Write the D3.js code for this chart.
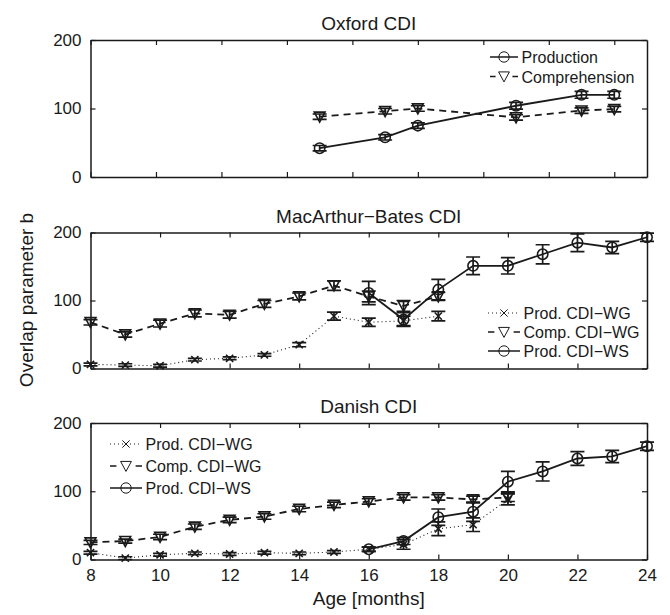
<!DOCTYPE html>
<html>
<head>
<meta charset="utf-8">
<script src="https://cdn.jsdelivr.net/npm/d3@7"></script>
<style>
  body { margin: 0; background: #fff; }
  text { font-family: "Liberation Sans", Arial, sans-serif; fill: #1a1a1a; }
</style>
</head>
<body>
<svg id="chart" width="670" height="615"></svg>
<script>
// --- data ---
// Oxford CDI
var oxAges = [15, 17, 18, 21, 23, 24];
var oxProd = [42, 58, 75, 104, 120, 120];
var oxProdErr = [4, 4, 4, 5, 5, 5];
var oxComp = [88, 96, 100, 87, 97, 99];
var oxCompErr = [4, 4, 4, 4, 4, 4];

// MacArthur-Bates CDI
var mbWgAges = [8, 9, 10, 11, 12, 13, 14, 15, 16, 17, 18];
var mbProdWg = [6, 5, 4, 13, 15, 20, 35, 77, 68, 70, 77];
var mbProdWgErr = [2, 2, 2, 2, 2, 2, 3, 6, 6, 7, 7];
var mbCompWg = [68, 50, 66, 81, 79, 95, 106, 122, 106, 92, 106];
var mbCompWgErr = [4, 4, 5, 5, 5, 5, 5, 7, 8, 8, 6];
var mbWsAges = [16, 17, 18, 19, 20, 21, 22, 23, 24];
var mbProdWs = [111, 72, 116, 151, 151, 168, 185, 178, 193];
var mbProdWsErr = [17, 10, 15, 13, 12, 14, 13, 9, 6];

// Danish CDI
var dkWgAges = [8, 9, 10, 11, 12, 13, 14, 15, 16, 17, 18, 19, 20];
var dkProdWg = [10, 2, 7, 9, 8, 10, 9, 11, 15, 22, 45, 51, 88];
var dkProdWgErr = [2, 2, 2, 2, 2, 2, 2, 2, 3, 7, 10, 10, 8];
var dkCompWg = [25, 27, 33, 48, 58, 63, 74, 80, 85, 91, 91, 88, 91];
var dkCompWgErr = [3, 3, 4, 4, 4, 4, 4, 4, 4, 4, 4, 5, 6];
var dkWsAges = [16, 17, 18, 19, 20, 21, 22, 23, 24];
var dkProdWs = [15, 27, 62, 70, 114, 129, 148, 151, 166];
var dkProdWsErr = [3, 5, 12, 14, 15, 14, 10, 9, 6];

var xTicks = [8, 10, 12, 14, 16, 18, 20, 22, 24];
var yTicks = [0, 100, 200];

var svg = d3.select("#chart");
var left = 90.5, right = 647;
var ink = "#1a1a1a";

// three stacked panels
var panels = [
  { title: "Oxford CDI", top: 40, bottom: 177, xMax: 25, xLabels: false,
    legend: { x: 490, y: 57, dy: 19.5, len: 28 },
    series: [
      { name: "Production", ages: oxAges, vals: oxProd, err: oxProdErr, dash: null, marker: "circle" },
      { name: "Comprehension", ages: oxAges, vals: oxComp, err: oxCompErr, dash: "7,5", marker: "tri" }
    ] },
  { title: "MacArthur\u2212Bates CDI", top: 232.5, bottom: 368.5, xMax: 24, xLabels: false,
    legend: { x: 488, y: 313, dy: 19, len: 32 },
    series: [
      { name: "Prod. CDI\u2212WG", ages: mbWgAges, vals: mbProdWg, err: mbProdWgErr, dash: "1,3", marker: "x" },
      { name: "Comp. CDI\u2212WG", ages: mbWgAges, vals: mbCompWg, err: mbCompWgErr, dash: "7,5", marker: "tri" },
      { name: "Prod. CDI\u2212WS", ages: mbWsAges, vals: mbProdWs, err: mbProdWsErr, dash: null, marker: "circle" }
    ] },
  { title: "Danish CDI", top: 423, bottom: 559.5, xMax: 24, xLabels: true,
    legend: { x: 110, y: 444, dy: 22, len: 32 },
    series: [
      { name: "Prod. CDI\u2212WG", ages: dkWgAges, vals: dkProdWg, err: dkProdWgErr, dash: "1,3", marker: "x" },
      { name: "Comp. CDI\u2212WG", ages: dkWgAges, vals: dkCompWg, err: dkCompWgErr, dash: "7,5", marker: "tri" },
      { name: "Prod. CDI\u2212WS", ages: dkWsAges, vals: dkProdWs, err: dkProdWsErr, dash: null, marker: "circle" }
    ] }
];

function drawMarker(g, type, cx, cy) {
  if (type == "circle") {
    g.append("circle").attr("cx", cx).attr("cy", cy).attr("r", 5.2)
      .attr("fill", "none").attr("stroke", ink).attr("stroke-width", 1.6);
  } else if (type == "tri") {
    var s = 5.4;
    g.append("path")
      .attr("d", "M" + (cx - s) + "," + (cy - s * 0.85) + "L" + (cx + s) + "," + (cy - s * 0.85) + "L" + cx + "," + (cy + s) + "Z")
      .attr("fill", "none").attr("stroke", ink).attr("stroke-width", 1.6);
  } else {
    var h = 3.6;
    g.append("path")
      .attr("d", "M" + (cx - h) + "," + (cy - h) + "L" + (cx + h) + "," + (cy + h) + "M" + (cx - h) + "," + (cy + h) + "L" + (cx + h) + "," + (cy - h))
      .attr("stroke", ink).attr("stroke-width", 1.6);
  }
}

panels.forEach(function (p) {
  var x = d3.scaleLinear().domain([8, p.xMax]).range([left, right]);
  var y = d3.scaleLinear().domain([0, 200]).range([p.bottom, p.top]);
  var g = svg.append("g");

  // axes, ticks pointing inward, box on all sides
  var xb = g.append("g").attr("transform", "translate(0," + p.bottom + ")")
    .call(d3.axisBottom(x).tickValues(xTicks).tickSizeInner(-5).tickSizeOuter(0)
      .tickFormat(p.xLabels ? d3.format("d") : ""));
  xb.selectAll(".tick text").attr("y", 21).attr("dy", 0);
  g.append("g").attr("transform", "translate(0," + p.top + ")")
    .call(d3.axisTop(x).tickValues(xTicks).tickSizeInner(-5).tickSizeOuter(0).tickFormat(""));
  var yl = g.append("g").attr("transform", "translate(" + left + ",0)")
    .call(d3.axisLeft(y).tickValues(yTicks).tickSizeInner(-5).tickSizeOuter(0));
  yl.selectAll(".tick text").attr("x", -9);
  g.append("g").attr("transform", "translate(" + right + ",0)")
    .call(d3.axisRight(y).tickValues(yTicks).tickSizeInner(-5).tickSizeOuter(0).tickFormat(""));
  g.selectAll(".domain").attr("stroke", ink).attr("stroke-width", 1.5);
  g.selectAll(".tick line").attr("stroke", ink).attr("stroke-width", 1.2);
  g.selectAll(".tick text").attr("font-size", 17).attr("fill", ink)
    .style("font-family", "Liberation Sans, Arial, sans-serif");

  g.append("text").attr("x", (left + right) / 2).attr("y", p.top - 10)
    .attr("text-anchor", "middle").attr("font-size", 19).text(p.title);

  // series
  p.series.forEach(function (s) {
    var line = d3.line().x(function (d, i) { return x(s.ages[i]); }).y(function (d) { return y(d); });
    g.append("path").datum(s.vals).attr("d", line)
      .attr("fill", "none").attr("stroke", ink).attr("stroke-width", s.dash == "1,3" ? 1.1 : 1.8)
      .attr("stroke-dasharray", s.dash);
    s.vals.forEach(function (v, i) {
      if (s.err) {
        var cx = x(s.ages[i]), y1 = y(v - s.err[i]), y2 = y(v + s.err[i]);
        g.append("path")
          .attr("d", "M" + cx + "," + y1 + "V" + y2 + "M" + (cx - 7) + "," + y1 + "H" + (cx + 7) + "M" + (cx - 7) + "," + y2 + "H" + (cx + 7))
          .attr("stroke", ink).attr("stroke-width", 1.7).attr("fill", "none");
      }
      drawMarker(g, s.marker, x(s.ages[i]), y(v));
    });
  });

  // legend: short line sample with marker in the middle
  p.series.forEach(function (s, i) {
    var ly = p.legend.y + i * p.legend.dy;
    var L = p.legend.len;
    var dash = s.dash;
    if (dash == "7,5") dash = (L * 0.2) + "," + (L * 0.6) + "," + (L * 0.2);
    g.append("line").attr("x1", p.legend.x).attr("x2", p.legend.x + L).attr("y1", ly).attr("y2", ly)
      .attr("stroke", ink).attr("stroke-width", s.dash == "1,3" ? 1 : 1.5)
      .attr("stroke-dasharray", dash);
    var lg = g.append("g");
    drawMarker(lg, s.marker, p.legend.x + L / 2, ly);
    lg.selectAll("circle,path").attr("stroke-width", 1);
    g.append("text").attr("x", p.legend.x + L + 3.5).attr("y", ly + 6).attr("font-size", 16).text(s.name);
  });
});

svg.append("text").attr("x", (left + right) / 2).attr("y", 605)
  .attr("text-anchor", "middle").attr("font-size", 19).text("Age [months]");
svg.append("text").attr("transform", "translate(33,300) rotate(-90)")
  .attr("text-anchor", "middle").attr("font-size", 19).text("Overlap parameter b");
</script>
</body>
</html>
